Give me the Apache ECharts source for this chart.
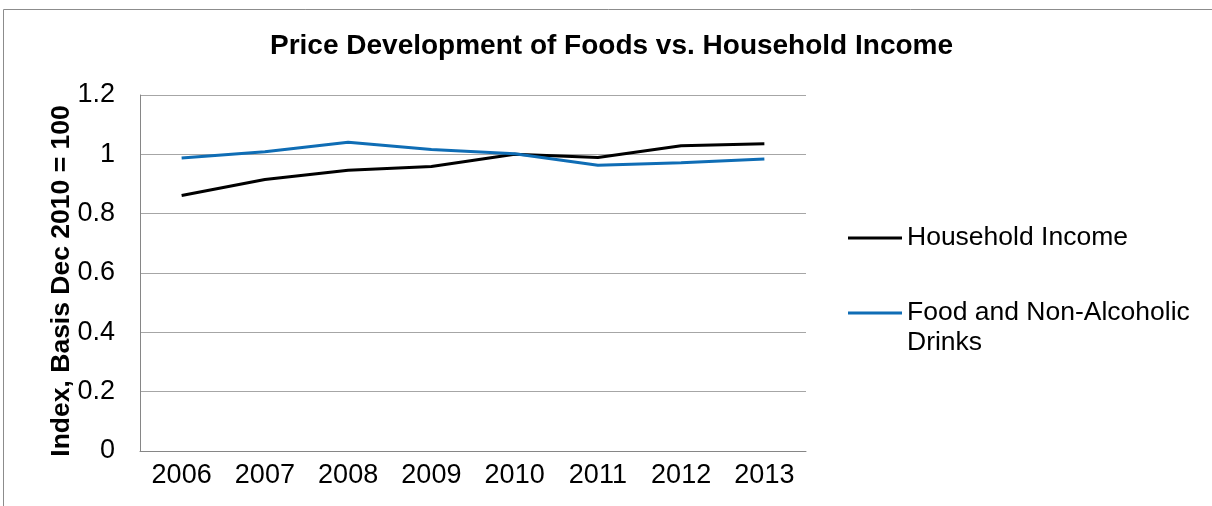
<!DOCTYPE html>
<html>
<head>
<meta charset="utf-8">
<script src="https://cdn.jsdelivr.net/npm/echarts@6/dist/echarts.min.js"></script>
<style>
html, body { margin: 0; padding: 0; background: #fff; }
#chart { width: 1212px; height: 506px; }
</style>
</head>
<body>
<div id="chart"></div>
<script>
var years = ['2006', '2007', '2008', '2009', '2010', '2011', '2012', '2013'];
var householdIncome = [0.861, 0.915, 0.946, 0.959, 1.0, 0.989, 1.029, 1.036];
var foodDrinks = [0.988, 1.009, 1.041, 1.016, 1.002, 0.963, 0.972, 0.984];

var font = '"Liberation Sans", Arial, sans-serif';

var chart = echarts.init(document.getElementById('chart'));
var option = {
	animation: false,
	color: ['#000000', '#0f6db5'],
	graphic: [{
		type: 'rect',
		shape: { x: 3.5, y: 9.5, width: 1400, height: 700 },
		style: { fill: 'none', stroke: '#8c8c8c', lineWidth: 1 },
		silent: true
	}],
	title: {
		text: 'Price Development of Foods vs. Household Income',
		left: 270,
		top: 32,
		padding: 0,
		textStyle: { fontFamily: font, fontSize: 28, fontWeight: 'bold', color: '#000' }
	},
	legend: [{
		data: ['Household Income'],
		orient: 'vertical',
		left: 848,
		top: 223,
		padding: 0,
		icon: 'rect',
		itemWidth: 54,
		itemHeight: 3,
		itemGap: 0,
		textStyle: { fontFamily: font, fontSize: 26.5, color: '#000', lineHeight: 30 }
	}, {
		data: ['Food and Non-Alcoholic Drinks'],
		orient: 'vertical',
		left: 848,
		top: 268,
		padding: 0,
		icon: 'rect',
		itemWidth: 54,
		itemHeight: 3,
		formatter: function(name) {
			// empty first line keeps the icon level with the first text line
			return ' \nFood and Non-Alcoholic\nDrinks';
		},
		textStyle: { fontFamily: font, fontSize: 26.5, color: '#000', lineHeight: 30 }
	}],
	grid: { left: 140, right: 406, top: 95, bottom: 55 },
	xAxis: {
		type: 'category',
		data: years,
		boundaryGap: true,
		axisLine: { lineStyle: { color: '#868686', width: 1 } },
		axisTick: { show: false },
		axisLabel: { fontFamily: font, fontSize: 27, color: '#000', margin: 11 }
	},
	yAxis: {
		type: 'value',
		min: 0,
		max: 1.2,
		interval: 0.2,
		name: 'Index, Basis Dec 2010 = 100',
		nameLocation: 'middle',
		nameGap: 65,
		nameMoveOverlap: false,
		nameTextStyle: { fontFamily: font, fontSize: 26.5, fontWeight: 'bold', color: '#000', padding: [0, 16, 0, 0] },
		axisLine: { show: true, lineStyle: { color: '#868686', width: 1 } },
		axisTick: { show: false },
		axisLabel: { fontFamily: font, fontSize: 27, color: '#000', margin: 25 },
		splitLine: { lineStyle: { color: '#a6a6a6', width: 1 } }
	},
	series: [{
		name: 'Household Income',
		type: 'line',
		data: householdIncome,
		showSymbol: false,
		lineStyle: { width: 3, color: '#000000' }
	}, {
		name: 'Food and Non-Alcoholic Drinks',
		type: 'line',
		data: foodDrinks,
		showSymbol: false,
		lineStyle: { width: 3, color: '#0f6db5' }
	}]
};
chart.setOption(option);
</script>
</body>
</html>
